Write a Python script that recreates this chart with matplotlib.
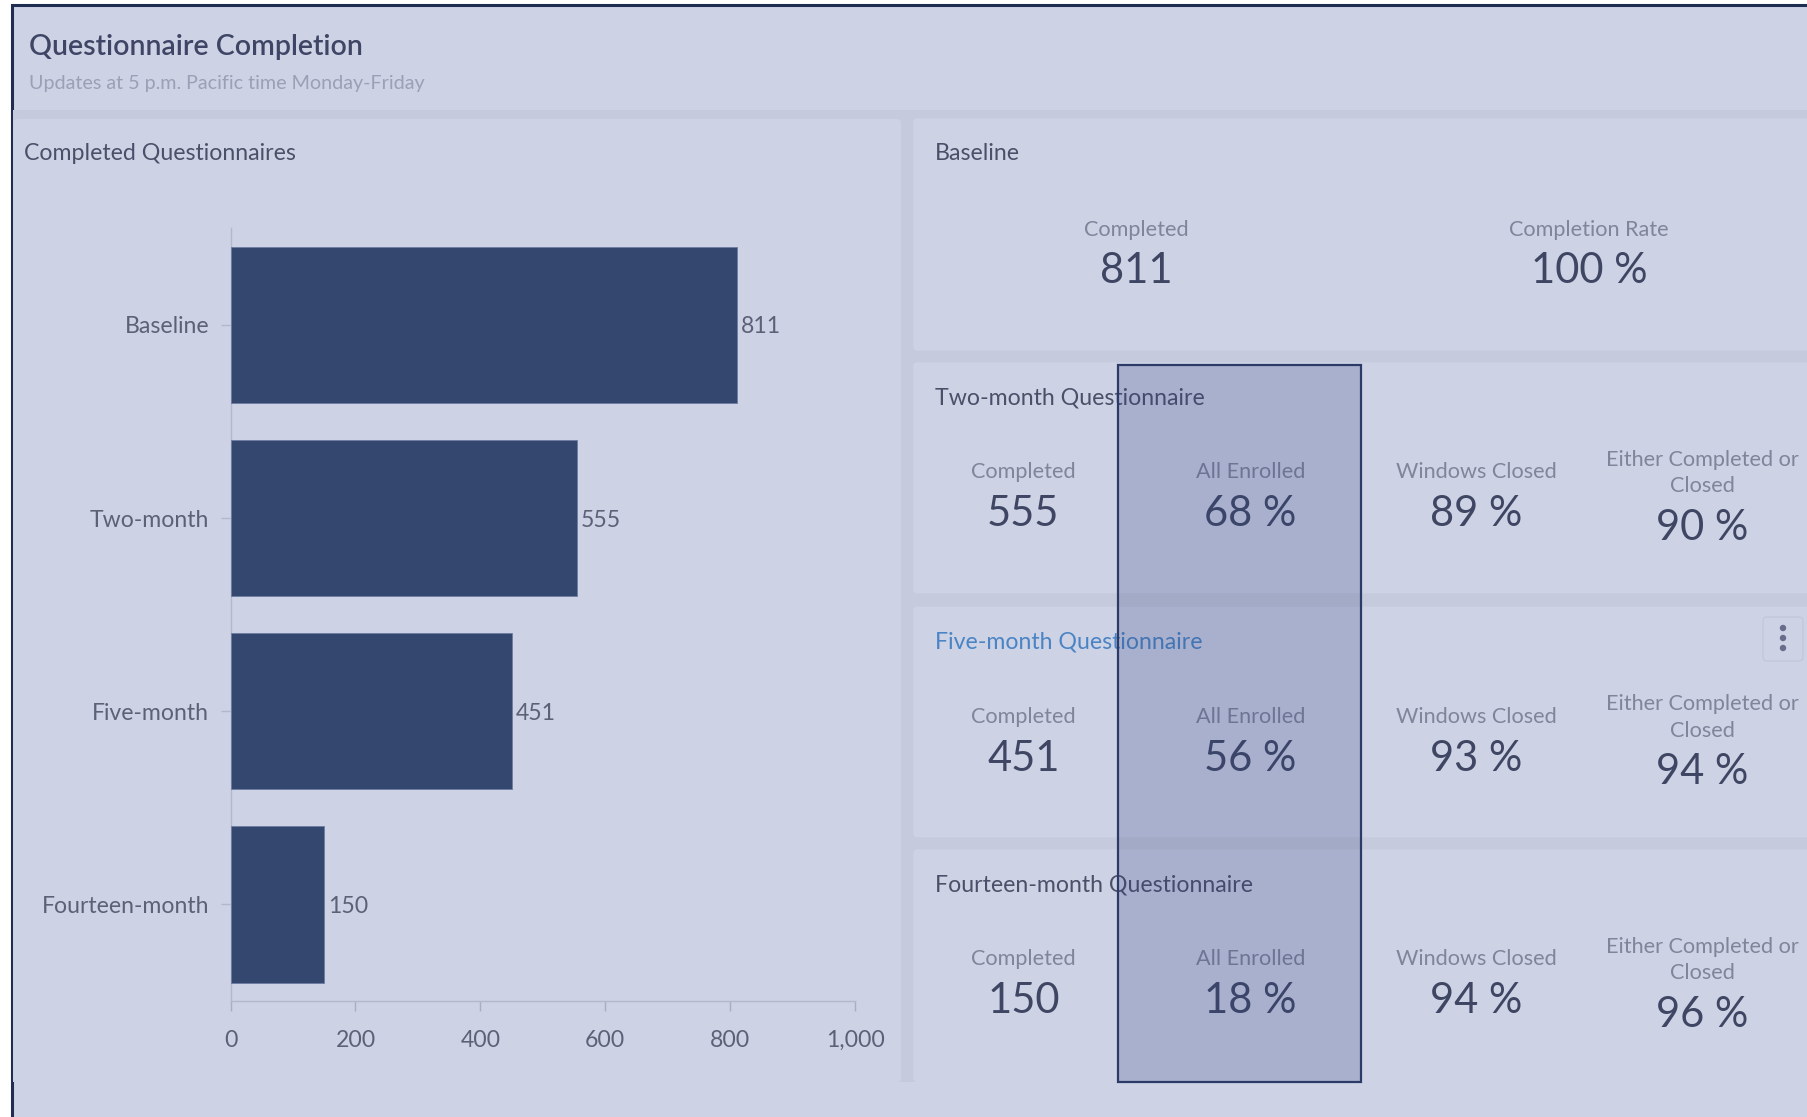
import matplotlib
matplotlib.use("Agg")
import matplotlib.pyplot as plt
from matplotlib.patches import Rectangle, FancyBboxPatch, Circle

plt.rcParams['font.family'] = ['Lato', 'DejaVu Sans']

# ---------------- data ----------------
categories = ["Baseline", "Two-month", "Five-month", "Fourteen-month"]
completed = [811, 555, 451, 150]
x_ticks = [0, 200, 400, 600, 800, 1000]
x_tick_labels = ["0", "200", "400", "600", "800", "1,000"]

baseline_completion_rate = 100
followup_titles = ["Two-month Questionnaire", "Five-month Questionnaire",
                   "Fourteen-month Questionnaire"]
followup_completed = [555, 451, 150]
all_enrolled = [68, 56, 18]
windows_closed = [89, 93, 94]
either_completed_or_closed = [90, 94, 96]
metric_labels = ["Completed", "All Enrolled", "Windows Closed",
                 "Either Completed or\nClosed"]

# ---------------- style ----------------
W, H = 1808, 1117
BG = '#CDD2E4'
GAP = '#C5CADC'
BORDER = '#1F2D50'
BAR = '#34476F'
TITLE_C = '#3E4565'
SUB_C = '#9AA0B6'
PTITLE_C = '#4A5069'
LABEL_C = '#7F859B'
VALUE_C = '#3F4663'
TICK_C = '#5C6178'
LINK_C = '#4A84C4'

FS_TITLE = 20.5
FS_SUB = 14.2
FS_PT = 16.7
FS_LAB = 15.6
FS_VAL = 30
FS_TICK = 16.6
VAL_DY = 4

fig = plt.figure(figsize=(W / 100, H / 100), dpi=100)
fig.patch.set_facecolor('white')

bg = fig.add_axes([0, 0, 1, 1])
bg.set_xlim(0, W)
bg.set_ylim(H, 0)
bg.axis('off')

# dashboard frame
bg.add_patch(Rectangle((11.8, 4.7), W, H, facecolor=BG, edgecolor=BORDER,
                       linewidth=2.2, zorder=0))
# panel grid gaps
bg.add_patch(Rectangle((13.3, 110), W, 1082 - 110, facecolor=GAP,
                       edgecolor='none', zorder=1))
# left panel
bg.add_patch(FancyBboxPatch((13.3, 119), 901 - 13.3, 1082 - 119,
                            boxstyle="round,pad=0,rounding_size=4",
                            facecolor=BG, edgecolor='none', zorder=2))
# right panels
panel_tops = [118.3, 362.3, 606.7, 849.3]
panel_bottoms = [350.7, 593.3, 837.3, 1082]
for t, b in zip(panel_tops, panel_bottoms):
    bg.add_patch(FancyBboxPatch((913.3, t), W, b - t,
                                boxstyle="round,pad=0,rounding_size=4",
                                facecolor=BG, edgecolor='none', zorder=2))

# header
bg.text(29, 47, "Questionnaire Completion", fontsize=FS_TITLE,
        fontweight='semibold', color=TITLE_C, va='center', ha='left', zorder=5)
bg.text(29, 84, "Updates at 5 p.m. Pacific time Monday-Friday", fontsize=FS_SUB,
        color=SUB_C, va='center', ha='left', zorder=5)

# left panel title
bg.text(24, 153, "Completed Questionnaires", fontsize=FS_PT, color=PTITLE_C,
        va='center', ha='left', zorder=5)

# ---------------- bar chart ----------------
ax = fig.add_axes([230.6 / W, (H - 1001) / H, 624.4 / W, 772.7 / H])
ax.set_facecolor('none')
ypos = list(range(len(categories)))
ax.barh(ypos, completed, height=0.81, color=BAR, edgecolor='#6E7CA2',
        linewidth=0.6, zorder=3)
ax.set_xlim(0, 1000)
ax.set_ylim(len(categories) - 0.5, -0.5)
ax.set_xticks(x_ticks)
ax.set_xticklabels(x_tick_labels)
ax.set_yticks(ypos)
ax.set_yticklabels(categories)
for s in ['top', 'right']:
    ax.spines[s].set_visible(False)
for s in ['left', 'bottom']:
    ax.spines[s].set_color('#B3B8CC')
    ax.spines[s].set_linewidth(1.0)
ax.tick_params(axis='x', length=7, width=1, color='#A9AEC4', labelsize=FS_TICK,
               labelcolor=TICK_C, pad=14)
ax.tick_params(axis='y', length=7, width=1, color='#B3B8CC', labelsize=FS_TICK,
               labelcolor=TICK_C, pad=8.5)
for y, v in zip(ypos, completed):
    ax.annotate(f"{v}", xy=(v, y), xytext=(2.5, -1.5), textcoords='offset points',
                va='center', ha='left', fontsize=FS_TICK, color=TICK_C)

# ---------------- right panels ----------------
# Baseline panel
bg.text(934.7, 154, "Baseline", fontsize=FS_PT, color=PTITLE_C, va='center',
        ha='left', zorder=5)
bg.text(1136, 230, "Completed", fontsize=FS_LAB, color=LABEL_C, va='center',
        ha='center', zorder=5)
bg.text(1136, 267 + VAL_DY, f"{completed[0]}", fontsize=FS_VAL, color=VALUE_C,
        va='center', ha='center', zorder=5)
bg.text(1589, 230, "Completion Rate", fontsize=FS_LAB, color=LABEL_C,
        va='center', ha='center', zorder=5)
bg.text(1589, 267 + VAL_DY, f"{baseline_completion_rate} %", fontsize=FS_VAL,
        color=VALUE_C, va='center', ha='center', zorder=5)

col_x = [1023.3, 1250.3, 1476, 1702]
for i, top in enumerate(panel_tops[1:]):
    tcolor = LINK_C if i == 1 else PTITLE_C
    bg.text(934.7, top + 35.5, followup_titles[i], fontsize=FS_PT, color=tcolor,
            va='center', ha='left', zorder=5)
    vals = [f"{followup_completed[i]}", f"{all_enrolled[i]} %",
            f"{windows_closed[i]} %", f"{either_completed_or_closed[i]} %"]
    for j, (lab, val) in enumerate(zip(metric_labels, vals)):
        if j < 3:
            bg.text(col_x[j], top + 110, lab, fontsize=FS_LAB, color=LABEL_C,
                    va='center', ha='center', zorder=5)
            bg.text(col_x[j], top + 148 + VAL_DY, val, fontsize=FS_VAL,
                    color=VALUE_C, va='center', ha='center', zorder=5)
        else:
            l1, l2 = lab.split("\n")
            bg.text(col_x[j], top + 97.5, l1, fontsize=FS_LAB, color=LABEL_C,
                    va='center', ha='center', zorder=5)
            bg.text(col_x[j], top + 124, l2, fontsize=FS_LAB, color=LABEL_C,
                    va='center', ha='center', zorder=5)
            bg.text(col_x[j], top + 161.5 + VAL_DY, val, fontsize=FS_VAL,
                    color=VALUE_C, va='center', ha='center', zorder=5)

# kebab menu on five-month panel
bg.add_patch(FancyBboxPatch((1763, 617), 40, 44,
                            boxstyle="round,pad=0,rounding_size=4",
                            facecolor=BG, edgecolor='#C0C5D8', linewidth=0.8,
                            zorder=4))
for dy in [628, 638, 648]:
    bg.add_patch(Circle((1783, dy), 3.2, facecolor='#676D8B', edgecolor='none',
                        zorder=5))

# highlight rectangle over "All Enrolled" column
bg.add_patch(Rectangle((1118.3, 365), 1361 - 1118.3, 1082.3 - 365,
                       facecolor='#2E3F7F', alpha=0.226, edgecolor='none',
                       zorder=8))
bg.add_patch(Rectangle((1118.3, 365), 1361 - 1118.3, 1082.3 - 365,
                       facecolor='none', edgecolor='#2B3A66', linewidth=1.6,
                       zorder=9))

fig.savefig("out.png", dpi=100, facecolor=fig.get_facecolor())
